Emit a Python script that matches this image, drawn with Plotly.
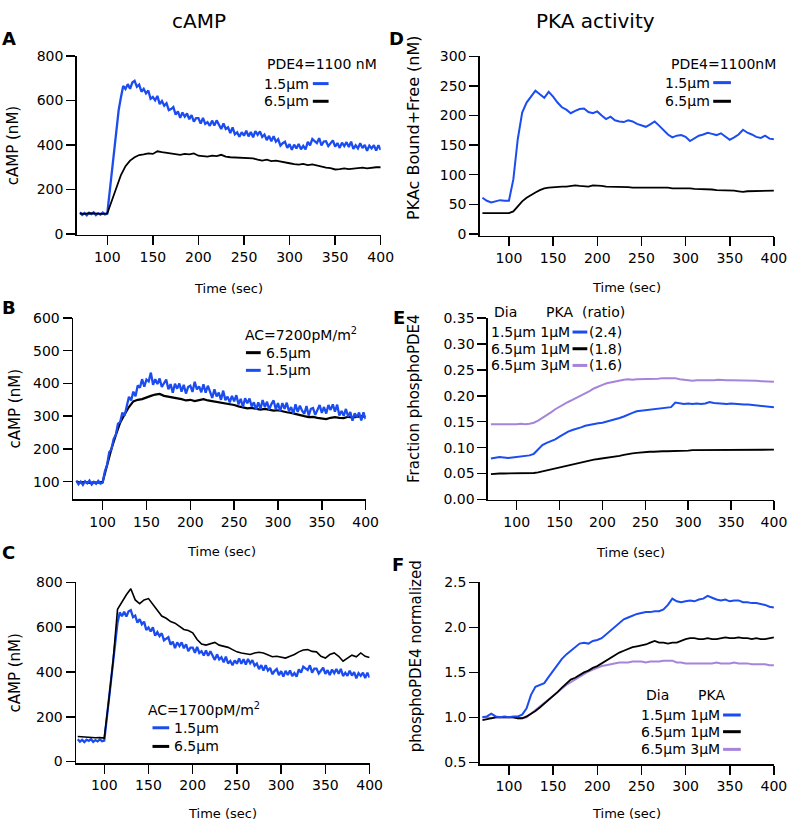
import plotly.graph_objects as go

# ---------------- data ----------------
time_s = list(range(70, 405, 5))                   # 5 s samples (sec)
time_f = [70 + 2.5 * i for i in range(133)]        # 2.5 s samples for the noisy traces
x_ticks = [100, 150, 200, 250, 300, 350, 400]

# Panel A: cAMP (nM), PDE4=1100 nM  (1.5 um at 2.5 s, 6.5 um at 5 s)
a_15 = [97, 86, 94, 84, 95, 89, 97, 85, 93, 87, 96, 88, 91,
        186, 286, 393, 463, 557, 615, 666, 652, 674, 653, 681, 689, 662, 672, 640,
        653, 632, 645, 608, 616, 601, 621, 584, 598, 577, 588, 557, 562, 571, 537, 551, 522, 546,
        528, 542, 516, 535, 505, 521, 521, 496, 522, 495, 503, 486, 510, 488, 511, 491, 472, 497,
        472, 480, 454, 479, 448, 457, 437, 458, 442, 464, 439, 459, 435, 463, 446, 461, 436, 447,
        422, 441, 417, 440, 415, 426, 397, 408, 415, 387, 404, 378, 402, 385, 405, 381, 396, 380,
        414, 399, 427, 418, 409, 431, 398, 416, 417, 395, 409, 421, 393, 409, 387, 411, 395, 413,
        391, 415, 383, 399, 385, 408, 386, 401, 374, 397, 385, 399, 375, 399, 378]
a_65 = [92, 90, 93, 91, 92, 90, 92,
        150, 205, 265, 305, 330, 345, 355, 358, 362, 360,
        372, 368, 365, 362, 358, 356, 360, 358, 362, 352,
        350, 348, 352, 350, 356, 348, 345, 344, 340, 342,
        338, 340, 334, 330, 334, 328, 330, 325, 322, 318,
        314, 312, 315, 310, 313, 308, 302, 298, 296, 290,
        292, 295, 292, 294, 296, 298, 295, 299, 300, 300]

# Panel B: cAMP (nM), AC=7200 pM/m2
b_65 = [100, 97, 99, 96, 98, 97, 99,
        152, 200, 242, 280, 305, 328, 345, 350, 352,
        358, 362, 366, 368, 362, 360, 357, 355, 352, 348,
        350, 346, 350, 352, 348, 346, 344, 340, 340, 336,
        334, 330, 328, 324, 325, 322, 320, 322, 320, 317,
        318, 314, 312, 310, 306, 304, 300, 297, 298, 295,
        292, 291, 295, 297, 295, 294, 298, 296, 298, 300, 298]
b_15 = [103, 92, 100, 90, 101, 95, 103, 91, 99, 93, 102, 94, 97,
        131, 151, 190, 198, 230, 243, 277, 282, 311, 301, 335, 359, 348, 375, 361,
        394, 387, 413, 390, 412, 406, 433, 396, 413, 398, 415, 389, 400, 412, 382, 398, 372, 399,
        384, 400, 375, 396, 369, 389, 393, 374, 405, 382, 391, 373, 397, 372, 393, 373, 356, 382,
        360, 372, 350, 378, 349, 360, 342, 362, 345, 364, 336, 353, 328, 355, 339, 354, 330, 342,
        320, 342, 322, 349, 328, 344, 320, 337, 348, 321, 340, 315, 340, 322, 341, 315, 328, 308,
        336, 313, 332, 317, 307, 331, 302, 322, 325, 304, 320, 334, 310, 328, 308, 334, 319, 336,
        314, 335, 302, 316, 301, 322, 299, 313, 286, 309, 297, 311, 287, 312, 291]

# Panel C: cAMP (nM), AC=1700 pM/m2
c_15 = [100, 89, 97, 87, 98, 92, 100, 88, 96, 90, 99, 91, 94,
        186, 266, 368, 443, 547, 620, 666, 649, 669, 648, 671, 676, 645, 652, 620,
        636, 613, 625, 588, 599, 581, 600, 562, 578, 560, 573, 541, 547, 556, 522, 536, 507, 532,
        516, 532, 506, 524, 493, 509, 509, 486, 512, 485, 493, 474, 496, 472, 493, 472, 454, 479,
        456, 466, 443, 469, 438, 449, 430, 452, 437, 461, 437, 457, 433, 458, 439, 453, 428, 438,
        413, 431, 406, 430, 406, 418, 390, 404, 413, 386, 404, 379, 405, 387, 407, 382, 395, 379,
        412, 397, 424, 416, 409, 430, 397, 415, 415, 393, 407, 419, 392, 408, 386, 411, 395, 413,
        392, 414, 382, 397, 383, 406, 384, 399, 372, 395, 383, 397, 373, 397, 375]
c_65 = [112, 110, 108, 109, 106, 107, 105,
        270, 450, 680, 715, 745, 772, 722, 705, 722,
        728, 702, 680, 650, 640, 625, 618, 605, 590, 585,
        575, 545, 525, 520, 525, 532, 520, 515, 510, 500,
        490, 485, 480, 478, 485, 488, 485, 475, 468, 470,
        465, 462, 470, 478, 490, 498, 500, 492, 490, 470,
        462, 478, 485, 470, 448, 460, 475, 468, 485, 470, 465]

# Panel D: PKAc Bound+Free (nM)
d_15 = [61, 56, 53, 55, 57, 56, 56,
        92, 160, 205, 222, 232, 242, 236, 230, 240,
        232, 222, 214, 210, 204, 208, 211, 212, 206, 204,
        207, 200, 194, 198, 192, 190, 189, 192, 190, 186,
        184, 181, 185, 190, 183, 175, 168, 163, 166, 167,
        164, 157, 161, 166, 168, 171, 169, 167, 170, 164,
        159, 163, 168, 176, 171, 168, 164, 162, 166, 161, 160]
d_65 = [35, 35, 35, 35, 35, 35, 35,
        38, 46, 55, 61, 66, 70, 74, 77, 78,
        79, 79, 80, 80, 81, 82, 81, 80, 80, 82,
        82, 81, 80, 80, 80, 80, 79, 79, 78, 78,
        79, 78, 78, 78, 78, 79, 78, 77, 77, 78,
        78, 77, 76, 76, 76, 75, 75, 74, 74, 74,
        73, 73, 72, 71, 72, 72, 73, 72, 73, 73, 73]

# Panel E: Fraction phosphoPDE4
e_15_1 = [0.079, 0.081, 0.082, 0.081, 0.080, 0.081, 0.082,
          0.083, 0.084, 0.085, 0.088, 0.097, 0.105, 0.109, 0.112, 0.116,
          0.121, 0.126, 0.131, 0.134, 0.136, 0.139, 0.142, 0.144, 0.146, 0.147,
          0.148, 0.150, 0.152, 0.155, 0.157, 0.160, 0.164, 0.167, 0.170, 0.171,
          0.172, 0.173, 0.174, 0.175, 0.175, 0.176, 0.178, 0.187, 0.185, 0.184,
          0.185, 0.184, 0.185, 0.184, 0.185, 0.188, 0.186, 0.185, 0.185, 0.184,
          0.185, 0.184, 0.184, 0.183, 0.183, 0.182, 0.182, 0.181, 0.180, 0.179, 0.178]
e_65_1 = [0.049, 0.050, 0.050, 0.050, 0.050, 0.050, 0.050,
          0.050, 0.050, 0.050, 0.051, 0.052, 0.054, 0.055, 0.057, 0.059,
          0.062, 0.064, 0.066, 0.068, 0.070, 0.072, 0.074, 0.076, 0.077, 0.078,
          0.079, 0.080, 0.081, 0.082, 0.084, 0.086, 0.088, 0.089, 0.090, 0.091,
          0.091, 0.092, 0.092, 0.093, 0.093, 0.093, 0.093, 0.093, 0.093, 0.094,
          0.094, 0.095, 0.095, 0.095, 0.095, 0.095, 0.095, 0.095, 0.096, 0.095,
          0.095, 0.095, 0.095, 0.095, 0.095, 0.095, 0.095, 0.095, 0.095, 0.095, 0.096]
e_65_3 = [0.145, 0.145, 0.145, 0.145, 0.144, 0.145, 0.145,
          0.146, 0.145, 0.146, 0.148, 0.152, 0.157, 0.162, 0.168, 0.174,
          0.179, 0.184, 0.188, 0.192, 0.196, 0.200, 0.205, 0.209, 0.214, 0.218,
          0.221, 0.224, 0.226, 0.228, 0.229, 0.231, 0.232, 0.231, 0.232, 0.232,
          0.233, 0.232, 0.233, 0.233, 0.234, 0.234, 0.235, 0.234, 0.232, 0.231,
          0.230, 0.229, 0.230, 0.230, 0.229, 0.230, 0.230, 0.231, 0.230, 0.230,
          0.230, 0.230, 0.229, 0.230, 0.229, 0.229, 0.229, 0.228, 0.228, 0.228, 0.227]

# Panel F: phosphoPDE4 normalized
f_15_1 = [1.00, 1.01, 1.04, 1.01, 1.00, 1.01, 1.00,
          1.01, 1.01, 1.03, 1.10, 1.25, 1.34, 1.36, 1.38, 1.45,
          1.52, 1.58, 1.65, 1.70, 1.74, 1.78, 1.82, 1.83, 1.82, 1.85,
          1.86, 1.88, 1.92, 1.96, 2.00, 2.05, 2.09, 2.11, 2.13, 2.15,
          2.16, 2.17, 2.17, 2.18, 2.18, 2.20, 2.25, 2.32, 2.29, 2.28,
          2.29, 2.30, 2.29, 2.31, 2.32, 2.35, 2.33, 2.31, 2.30, 2.31,
          2.29, 2.30, 2.30, 2.28, 2.28, 2.27, 2.27, 2.26, 2.25, 2.23, 2.22]
f_65_1 = [0.97, 0.98, 0.99, 1.00, 1.00, 1.00, 1.00,
          1.00, 0.99, 0.99, 1.01, 1.04, 1.07, 1.11, 1.15, 1.20,
          1.24, 1.28, 1.33, 1.38, 1.42, 1.44, 1.47, 1.50, 1.52, 1.55,
          1.57, 1.60, 1.63, 1.66, 1.69, 1.72, 1.74, 1.76, 1.78, 1.79,
          1.80, 1.81, 1.83, 1.85, 1.83, 1.83, 1.82, 1.83, 1.83, 1.85,
          1.87, 1.88, 1.88, 1.87, 1.87, 1.88, 1.87, 1.87, 1.88, 1.89,
          1.88, 1.88, 1.89, 1.88, 1.88, 1.87, 1.88, 1.87, 1.87, 1.88, 1.89]
f_65_3 = [1.00, 1.00, 0.99, 1.00, 1.00, 1.00, 1.00,
          1.00, 0.99, 0.99, 1.00, 1.04, 1.08, 1.12, 1.16, 1.20,
          1.25, 1.29, 1.33, 1.36, 1.39, 1.42, 1.45, 1.48, 1.51, 1.53,
          1.55, 1.57, 1.58, 1.59, 1.60, 1.61, 1.61, 1.61, 1.62, 1.62,
          1.62, 1.61, 1.62, 1.62, 1.62, 1.63, 1.63, 1.63, 1.61, 1.61,
          1.60, 1.60, 1.60, 1.60, 1.60, 1.60, 1.60, 1.61, 1.60, 1.60,
          1.60, 1.61, 1.60, 1.60, 1.60, 1.59, 1.59, 1.59, 1.59, 1.58, 1.58]

BLUE = "#1b4cf0"
BLACK = "#000000"
PURPLE = "#a584da"
FONT = "DejaVu Sans"
W, H = 800, 831


def px(x):
    return x / W


def py(y):
    return 1 - y / H


fig = go.Figure()

# (x axis id, y axis id, traces: (times, values, colour, width))
panels = [
    ("x", "y", [(time_f, a_15, BLUE, 2.3), (time_s, a_65, BLACK, 1.8)]),
    ("x2", "y2", [(time_s, b_65, BLACK, 2.2), (time_f, b_15, BLUE, 2.3)]),
    ("x3", "y3", [(time_f, c_15, BLUE, 2.3), (time_s, c_65, BLACK, 1.6)]),
    ("x4", "y4", [(time_s, d_15, BLUE, 2.0), (time_s, d_65, BLACK, 1.8)]),
    ("x5", "y5", [(time_s, e_65_3, PURPLE, 2.0), (time_s, e_15_1, BLUE, 2.0),
                  (time_s, e_65_1, BLACK, 1.8)]),
    ("x6", "y6", [(time_s, f_65_3, PURPLE, 2.0), (time_s, f_65_1, BLACK, 1.8),
                  (time_s, f_15_1, BLUE, 2.0)]),
]
for xa, ya, trs in panels:
    for tt, vals, col, wd in trs:
        fig.add_trace(go.Scatter(x=tt, y=vals, mode="lines",
                                 line=dict(color=col, width=wd),
                                 xaxis=xa, yaxis=ya, showlegend=False,
                                 hoverinfo="skip"))

# axis geometry in pixels: (x0, x1, ytop, ybottom, xrange, yrange, ytickvals, yfmt)
geo = [
    (78, 387, 49, 231, [66.5, 400], [-4, 800], [0, 200, 400, 600, 800], None),
    (74.3, 371.7, 315.7, 500.3, [66.3, 400], [46, 600], [100, 200, 300, 400, 500, 600], None),
    (77.3, 375.7, 585, 769, [68.1, 400], [-7, 800], [0, 200, 400, 600, 800], None),
    (487.7, 786.7, 49.3, 231.7, [67, 400], [-2.8, 300], [0, 50, 100, 150, 200, 250, 300], None),
    (496, 786.7, 315.7, 501, [66.5, 400], [-0.001, 0.35], [0, 0.05, 0.1, 0.15, 0.2, 0.25, 0.3, 0.35], ".2f"),
    (487.7, 786.7, 585, 770, [67, 400], [0.48, 2.5], [0.5, 1.0, 1.5, 2.0, 2.5], ".1f"),
]

axis_common = dict(showline=True, linecolor="black", linewidth=1.5,
                   ticks="outside", ticklen=9, tickwidth=1.5, tickcolor="black",
                   showgrid=False, zeroline=False,
                   tickfont=dict(family=FONT, size=14, color="black"))
layout_axes = {}
for i, (x0, x1, yt, yb, xr, yr, ytv, yfmt) in enumerate(geo):
    n = "" if i == 0 else str(i + 1)
    layout_axes["xaxis" + n] = dict(domain=[px(x0), px(x1)], range=xr,
                                    anchor="y" + n, tickvals=x_ticks, **axis_common)
    yax = dict(domain=[py(yb), py(yt)], range=yr, anchor="x" + n,
               tickvals=ytv, **axis_common)
    if yfmt:
        yax["tickformat"] = yfmt
    layout_axes["yaxis" + n] = yax

annotations = []
shapes = []


def txt(x, y, s, size=14, xa="left", ya="middle", bold=False, angle=0):
    t = "<b>" + s + "</b>" if bold else s
    annotations.append(dict(x=px(x), y=py(y), xref="paper", yref="paper", text=t,
                            showarrow=False, xanchor=xa, yanchor=ya, textangle=angle,
                            font=dict(family=FONT, size=size, color="black")))


def swatch(x0, x1, y, col):
    shapes.append(dict(type="line", xref="paper", yref="paper",
                       x0=px(x0), x1=px(x1), y0=py(y), y1=py(y),
                       line=dict(color=col, width=3)))


# column titles
txt(202, 13, "cAMP", size=20, xa="center")
txt(605, 13, "PKA activity", size=20, xa="center")

# panel letters
for lx, ly, lt in [(9, 31, "A"), (9, 305, "B"), (9, 554, "C"),
                   (403, 31, "D"), (406, 315, "E"), (405, 567, "F")]:
    txt(lx, ly, lt, size=18, xa="center", bold=True)

# axis titles
for cx, cy in [(232, 286), (225, 553), (226, 820), (637, 285), (641, 555), (637, 820)]:
    txt(cx, cy, "Time (sec)", size=13, xa="center")
txt(14, 140, "cAMP (nM)", size=15, xa="center", angle=-90)
txt(15, 408, "cAMP (nM)", size=15, xa="center", angle=-90)
txt(15, 677, "cAMP (nM)", size=15, xa="center", angle=-90)
txt(421, 122, "PKAc Bound+Free (nM)", size=16, xa="center", angle=-90)
txt(421, 398, "Fraction phosphoPDE4", size=15, xa="center", angle=-90)
txt(423, 660, "phosphoPDE4 normalized", size=15, xa="center", angle=-90)

# legend A
txt(269, 57, "PDE4=1100 nM")
txt(316, 77, "1.5μm", xa="right"); swatch(318, 334, 77, BLUE)
txt(316, 95, "6.5μm", xa="right"); swatch(318, 334, 95, BLACK)
# legend D
txt(680, 57, "PDE4=1100nM")
txt(724, 76, "1.5μm", xa="right"); swatch(725, 743, 76, BLUE)
txt(724, 95, "6.5μm", xa="right"); swatch(725, 743, 95, BLACK)
# legend B
txt(247, 332, "AC=7200pM/m<sup>2</sup>")
swatch(250, 265, 351, BLACK); txt(268, 351, "6.5μm")
swatch(250, 265, 369, BLUE); txt(268, 369, "1.5μm")
# legend C
txt(148, 714, "AC=1700pM/m<sup>2</sup>")
swatch(155, 172, 733, BLUE); txt(175, 733, "1.5μm")
swatch(155, 172, 752, BLACK); txt(175, 752, "6.5μm")
# legend E
txt(500, 310, "Dia"); txt(553, 310, "PKA"); txt(590, 310, "(ratio)")
for yy, lab, col, r in [(330, "1.5μm 1μM", BLUE, "(2.4)"),
                        (347, "6.5μm 1μM", BLACK, "(1.8)"),
                        (364, "6.5μm 3μM", PURPLE, "(1.6)")]:
    txt(581, yy, lab, xa="right"); swatch(582, 597, yy, col); txt(597, yy, r)
# legend F
txt(655, 700, "Dia"); txt(707, 700, "PKA")
for yy, lab, col in [(720, "1.5μm 1μM", BLUE), (737, "6.5μm 1μM", BLACK),
                     (755, "6.5μm 3μM", PURPLE)]:
    txt(734, yy, lab, xa="right"); swatch(735, 753, yy, col)

fig.update_layout(width=W, height=H, margin=dict(l=0, r=0, t=0, b=0),
                  paper_bgcolor="white", plot_bgcolor="white",
                  showlegend=False, annotations=annotations, shapes=shapes,
                  font=dict(family=FONT, color="black"), **layout_axes)

fig.write_html("out.html",
               config={"displayModeBar": False, "staticPlot": True},
               post_script="document.body.style.margin='0';"
                           "document.body.style.overflow='hidden';")
